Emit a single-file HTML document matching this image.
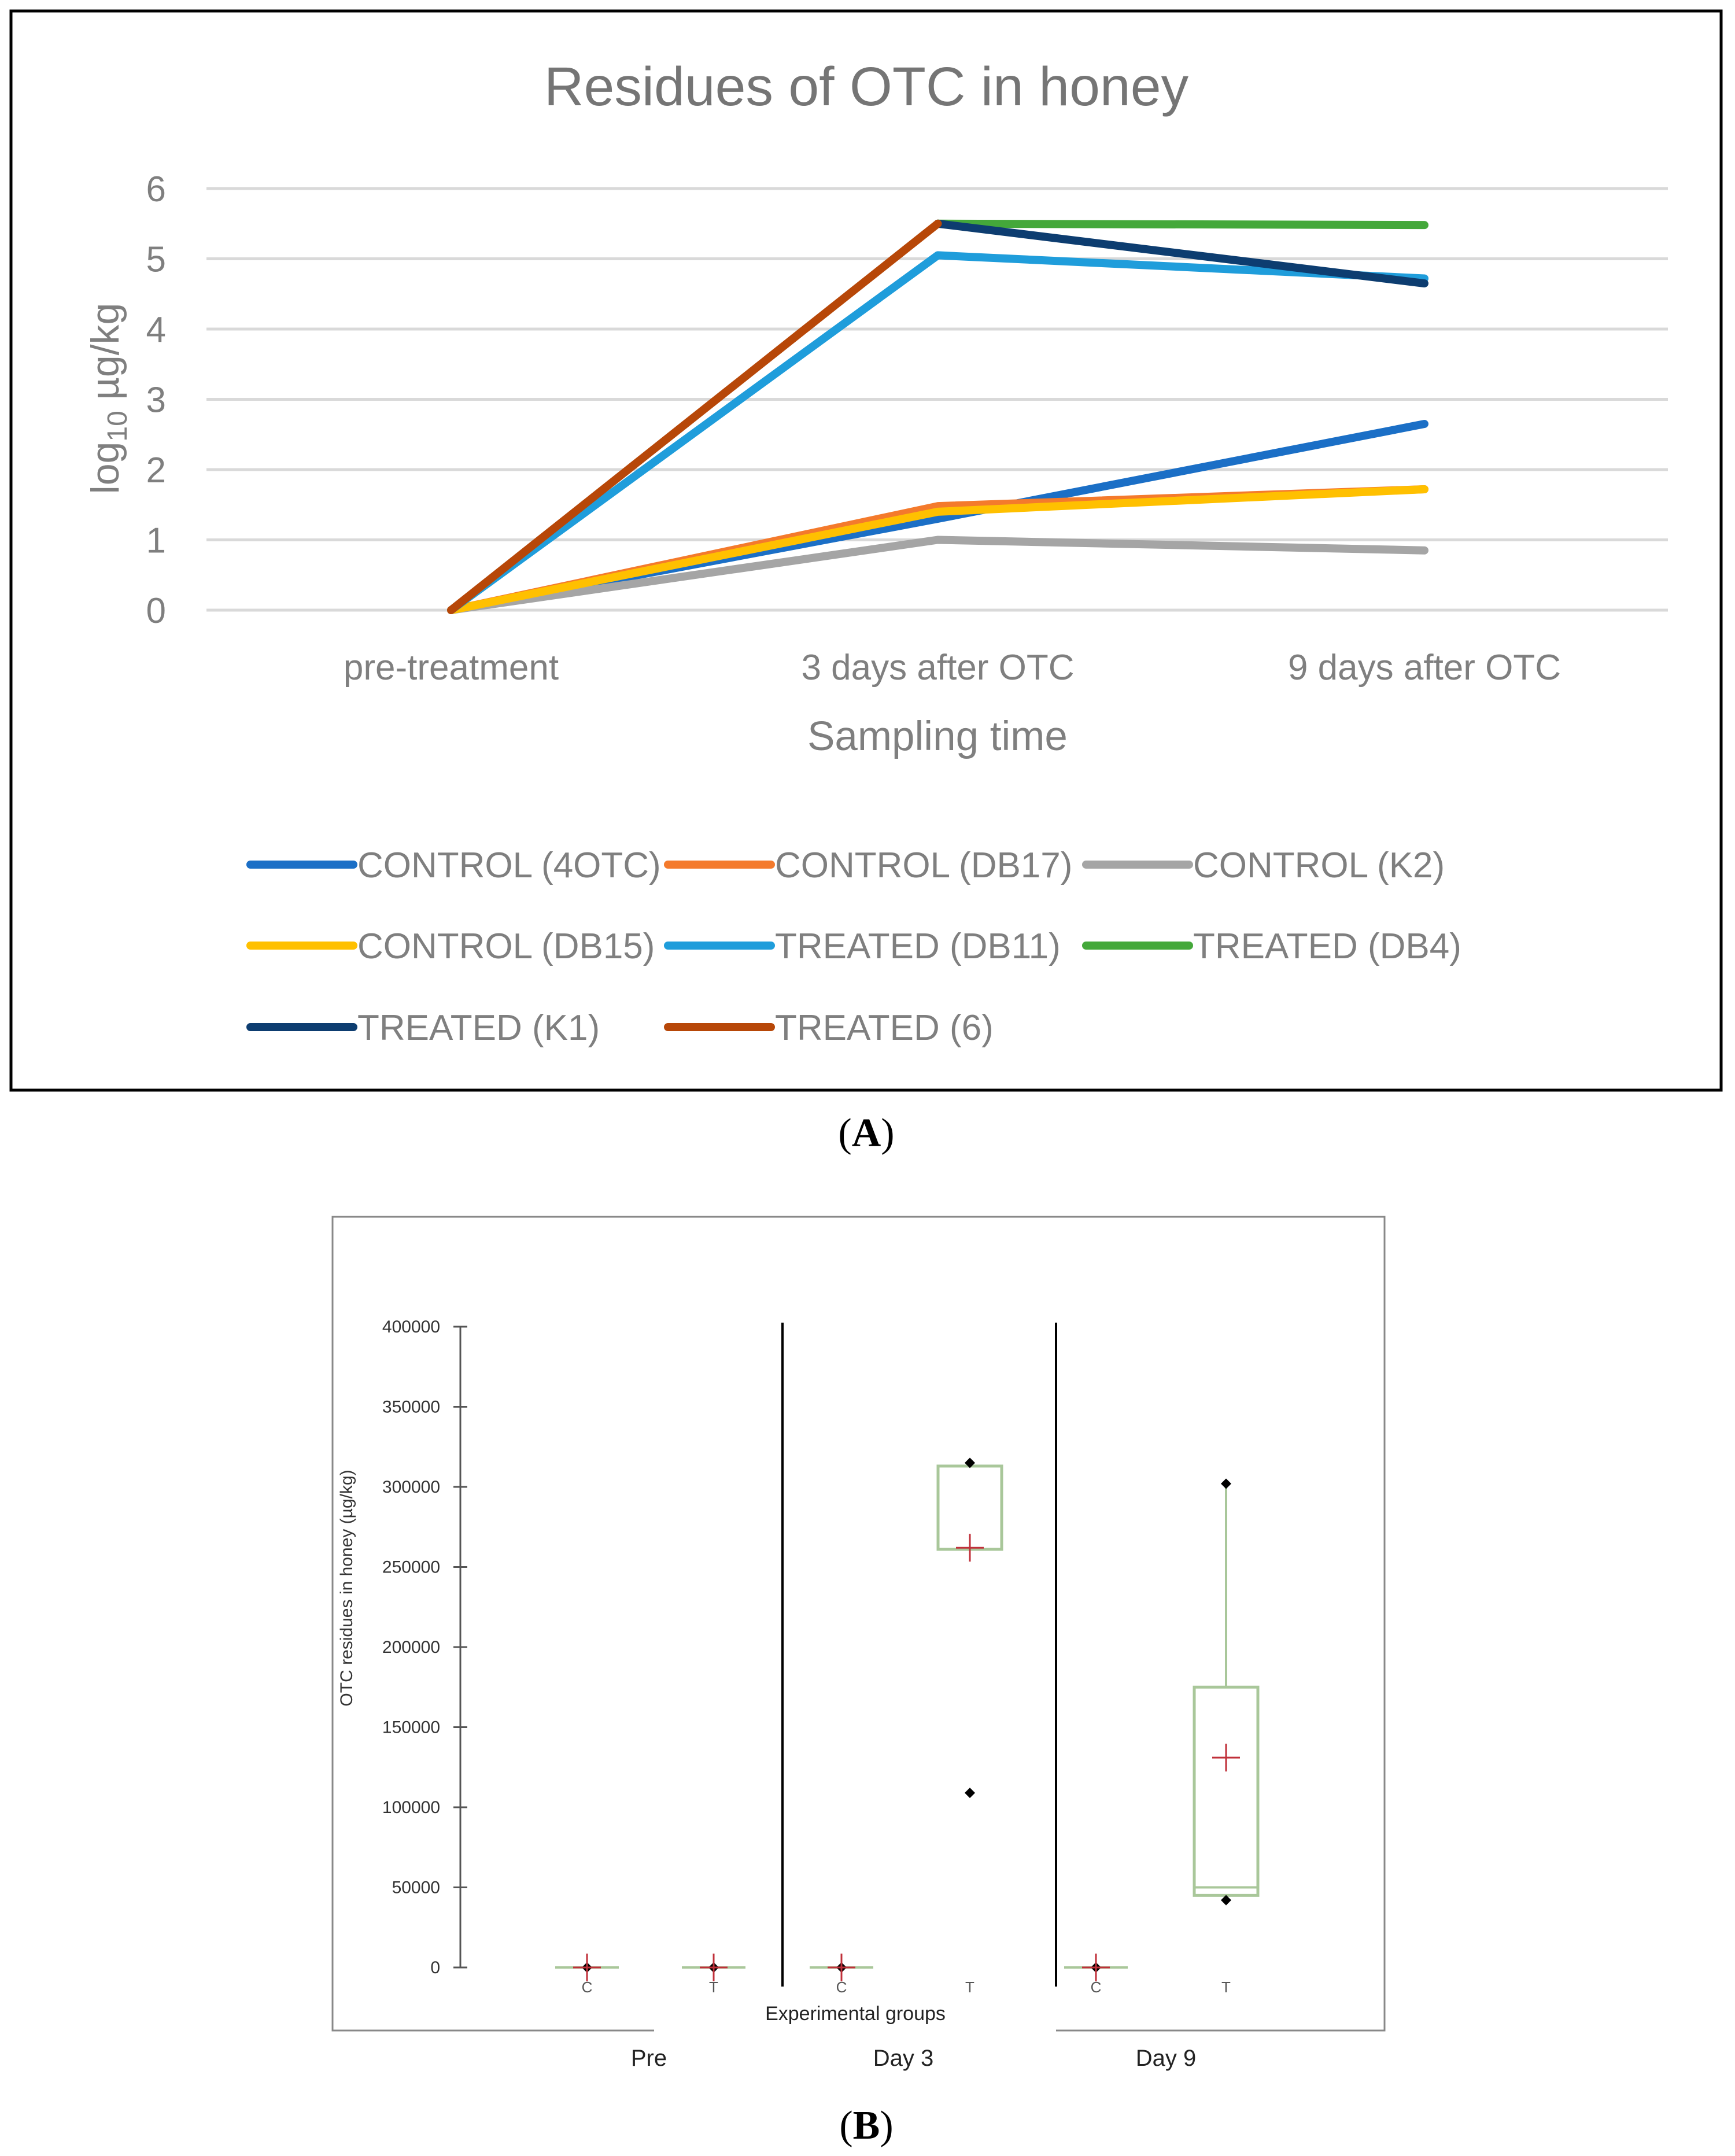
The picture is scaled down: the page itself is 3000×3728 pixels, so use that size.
<!DOCTYPE html>
<html><head><meta charset="utf-8"><style>
html,body{margin:0;padding:0;background:#fff;}
svg{display:block;}
</style></head><body>
<svg id="fig" width="3000" height="3728" viewBox="0 0 3000 3728" xmlns="http://www.w3.org/2000/svg" font-family="Liberation Sans, sans-serif">
<rect x="19" y="19" width="2957" height="1866" fill="#fff" stroke="#000" stroke-width="5"/>
<text x="1498" y="182" font-size="95" fill="#757575" text-anchor="middle">Residues of OTC in honey</text>
<g id="gridA"></g>
<g id="ytA"></g>
<g id="xtA"></g>
<g id="linesA"></g>
<text x="1621" y="1297" font-size="71" fill="#7f7f7f" text-anchor="middle">Sampling time</text>
<text transform="translate(205,689) rotate(-90)" font-size="68" fill="#7f7f7f" text-anchor="middle">log<tspan font-size="48" dy="14">10</tspan><tspan dy="-14"> µg/kg</tspan></text>
<g id="legendA"></g>
<text x="1498" y="1982" font-size="70" font-family="Liberation Serif, serif" text-anchor="middle">(<tspan font-weight="bold">A</tspan>)</text>

<rect x="575" y="2104" width="1819" height="1407" fill="#fff" stroke="#888" stroke-width="3"/>
<rect x="1131" y="3495" width="695" height="30" fill="#fff"/>
<line x1="796" y1="2294" x2="796" y2="3402" stroke="#555" stroke-width="3"/>
<g id="ytB"></g>
<line x1="1353" y1="2287" x2="1353" y2="3435" stroke="#000" stroke-width="4"/>
<line x1="1826" y1="2287" x2="1826" y2="3435" stroke="#000" stroke-width="4"/>
<g id="boxB"></g>
<text transform="translate(609,2746) rotate(-90)" font-size="30" fill="#333" text-anchor="middle">OTC residues in honey (µg/kg)</text>
<text x="1479" y="3493" font-size="34" fill="#222" text-anchor="middle">Experimental groups</text>
<text x="1122" y="3572" font-size="40" fill="#222" text-anchor="middle">Pre</text>
<text x="1562" y="3572" font-size="40" fill="#222" text-anchor="middle">Day 3</text>
<text x="2016" y="3572" font-size="40" fill="#222" text-anchor="middle">Day 9</text>
<text x="1498" y="3698" font-size="70" font-family="Liberation Serif, serif" text-anchor="middle">(<tspan font-weight="bold">B</tspan>)</text>
</svg>
<script>
const categoriesA = ["pre-treatment","3 days after OTC","9 days after OTC"];
const yTicksA = [0,1,2,3,4,5,6];
const seriesNames = ["CONTROL (4OTC)","CONTROL (DB17)","CONTROL (K2)","CONTROL (DB15)","TREATED (DB11)","TREATED (DB4)","TREATED (K1)","TREATED (6)"];
const seriesColors = ["#1b6fc6","#f47a2c","#a5a5a5","#ffc000","#1f9ddb","#44a83a","#0d3d70","#b74708"];
const s4OTC = [0,1.3,2.65];
const sDB17 = [0,1.48,1.72];
const sK2 = [0,1.0,0.85];
const sDB15 = [0,1.4,1.72];
const sDB11 = [0,5.05,4.72];
const sDB4 = [null,5.5,5.48];
const sK1 = [null,5.5,4.65];
const s6 = [0,5.5,null];
const seriesValues = [s4OTC,sDB17,sK2,sDB15,sDB11,sDB4,sK1,s6];

const groupsB = ["C","T","C","T","C","T"];
const yTicksB = [0,50000,100000,150000,200000,250000,300000,350000,400000];
const pointsB = [[0],[0],[0],[315000,109000],[0],[302000,42000]];
const meansB = [0,0,0,262000,0,131000];
const boxQ1 = [null,null,null,261000,null,45000];
const boxMed = [null,null,null,313000,null,50000];
const boxQ3 = [null,null,null,313000,null,175000];
const whiskerHi = [null,null,null,315000,null,302000];

const NS="http://www.w3.org/2000/svg";
function mk(tag,attrs,parent,txt){const e=document.createElementNS(NS,tag);for(const k in attrs)e.setAttribute(k,attrs[k]);if(txt!==undefined)e.textContent=txt;parent.appendChild(e);return e;}
const xA=i=>780+i*841.5;
const yA=v=>1055-v*(1055-326)/6;
const gG=document.getElementById('gridA'),ytA=document.getElementById('ytA'),xtA=document.getElementById('xtA');
yTicksA.forEach(t=>{
  const l=mk('line',{x1:357,x2:2884,y1:yA(t),y2:yA(t),stroke:'#d9d9d9','stroke-width':5},gG);
  
  
  const tx=mk('text',{x:287,y:yA(t)+22,'font-size':62,fill:'#7f7f7f','text-anchor':'end'},ytA,String(t));
  
  
});
categoriesA.forEach((c,i)=>{
  const tx=mk('text',{x:xA(i),y:1175,'font-size':62,fill:'#7f7f7f','text-anchor':'middle'},xtA,c);
  
  
});
const gL=document.getElementById('linesA');
seriesValues.forEach((vals,si)=>{
  let d='';let started=false;
  vals.forEach((v,i)=>{if(v===null){started=false;return;}d+=(started?'L':'M')+xA(i)+' '+yA(v)+' ';started=true;});
  const p=mk('path',{d:d,fill:'none',stroke:seriesColors[si],'stroke-width':14,'stroke-linejoin':'round','stroke-linecap':'round'},gL);
  
  
});
const gLeg=document.getElementById('legendA');
const legX=[433,1155,1878],legY=[1495,1635,1776];
seriesNames.forEach((n,i)=>{
  const cx=legX[i%3],cy=legY[Math.floor(i/3)];
  const g=mk('g',{},gLeg);
  
  
  mk('line',{x1:cx,x2:cx+178,y1:cy,y2:cy,stroke:seriesColors[i],'stroke-width':14,'stroke-linecap':'round'},g);
  mk('text',{x:cx+185,y:cy+22,'font-size':62,fill:'#7f7f7f'},g,n);
});

const xB=[1015,1234,1455,1677,1895,2120];
const yB=v=>3402-v*(3402-2294)/400000;
const gYB=document.getElementById('ytB');
yTicksB.forEach(t=>{
  const l=mk('line',{x1:784,x2:808,y1:yB(t),y2:yB(t),stroke:'#555','stroke-width':3},gYB);
  
  
  const tx=mk('text',{x:761,y:yB(t)+10,'font-size':30,fill:'#333','text-anchor':'end'},gYB,String(t));
  
  
});
const gB=document.getElementById('boxB');
groupsB.forEach((gname,i)=>{
  const x=xB[i];
  const g=mk('g',{},gB);
  
  
  if(boxQ1[i]!==null){
    mk('line',{x1:x,x2:x,y1:yB(whiskerHi[i]),y2:yB(boxQ3[i]),stroke:'#a9c79a','stroke-width':4},g);
    mk('rect',{x:x-55,y:yB(boxQ3[i]),width:110,height:yB(boxQ1[i])-yB(boxQ3[i]),fill:'none',stroke:'#a9c79a','stroke-width':5},g);
    mk('line',{x1:x-55,x2:x+55,y1:yB(boxMed[i]),y2:yB(boxMed[i]),stroke:'#a9c79a','stroke-width':4},g);
  } else {
    mk('line',{x1:x-55,x2:x+55,y1:yB(0),y2:yB(0),stroke:'#a9c79a','stroke-width':4},g);
  }
  pointsB[i].forEach(v=>{
    const y=yB(v);
    mk('path',{d:`M${x} ${y-9}L${x+9} ${y}L${x} ${y+9}L${x-9} ${y}Z`,fill:'#000'},g);
  });
  const m=yB(meansB[i]);
  mk('path',{d:`M${x-24} ${m}H${x+24}M${x} ${m-24}V${x+24>0?m+24:m}`,stroke:'#c0303a','stroke-width':3,fill:'none'},g);
  mk('text',{x:x,y:3445,'font-size':26,fill:'#555','text-anchor':'middle'},g,gname);
});
</script>
</body></html>
